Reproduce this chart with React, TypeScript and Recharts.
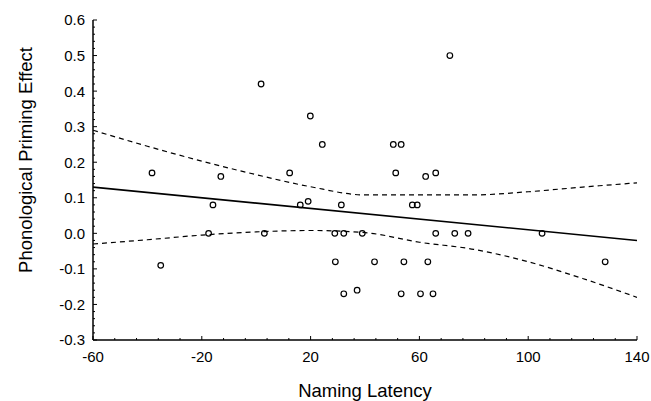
import React from "react";
import { ComposedChart, Line, Scatter, XAxis, YAxis, Label } from "recharts";

// scatter points: naming latency vs phonological priming effect
const latency = [
  -38.3, -35.1, -13, -15.9, -17.5, 1.8, 3.0, 19.9, 24.3, 50.4, 53.3, 12.3, 51.3,
  62.3, 66, 16.2, 19.1, 31.3, 57.4, 59.2, 71.2, 28.9, 32.2, 39, 66, 73, 77.9,
  29.1, 43.5, 54.3, 63.1, 32.2, 53.3, 60.4, 65, 37.1, 105.1, 128.3,
];
const priming = [
  0.17, -0.09, 0.16, 0.08, 0.0, 0.42, 0.0, 0.33, 0.25, 0.25, 0.25, 0.17, 0.17,
  0.16, 0.17, 0.08, 0.09, 0.08, 0.08, 0.08, 0.5, 0.0, 0.0, 0.0, 0.0, 0.0, 0.0,
  -0.08, -0.08, -0.08, -0.08, -0.17, -0.17, -0.17, -0.17, -0.16, 0.0, -0.08,
];

// regression line end points
const fitX = [-60, 140];
const fitY = [0.13, -0.02];

// confidence band
const bandX = [-60, -40, -20, 0, 20, 40, 60, 80, 100, 120, 140];
const bandUpper = [0.29, 0.245, 0.203, 0.165, 0.131, 0.108, 0.108, 0.108, 0.117, 0.13, 0.142];
const bandLower = [-0.03, -0.018, -0.005, 0.004, 0.008, 0.002, -0.025, -0.045, -0.08, -0.127, -0.18];

const xTicks = [-60, -20, 20, 60, 100, 140];
const yTicks = [-0.3, -0.2, -0.1, 0.0, 0.1, 0.2, 0.3, 0.4, 0.5, 0.6];
const yTickLabels = ["-0.3", "-0.2", "-0.1", "0.0", "0.1", "0.2", "0.3", "0.4", "0.5", "0.6"];

const FONT = "'Liberation Sans', Arial, Helvetica, sans-serif";

// add 4 minor ticks between every pair of major ones
const withMinor = (major: number[]) => {
  const out: number[] = [];
  for (let i = 0; i < major.length - 1; i++) {
    const step = (major[i + 1] - major[i]) / 5;
    for (let k = 0; k < 5; k++) out.push(+(major[i] + k * step).toFixed(4));
  }
  out.push(major[major.length - 1]);
  return out;
};

const points = latency.map((x, i) => ({ x, y: priming[i] }));
const fitData = fitX.map((x, i) => ({ x, y: fitY[i] }));
const upperData = bandX.map((x, i) => ({ x, y: bandUpper[i] }));
const lowerData = bandX.map((x, i) => ({ x, y: bandLower[i] }));

const majorIndex = (list: number[], v: number) => list.findIndex((t) => Math.abs(t - v) < 1e-6);

const XTick = (props: any) => {
  const { x, y, payload } = props;
  const idx = majorIndex(xTicks, payload.value);
  return (
    <g>
      <line x1={x} y1={y} x2={x} y2={y - (idx >= 0 ? 4 : 2)} stroke="#000" strokeWidth={1} />
      {idx >= 0 && (
        <text x={x} y={y + 22} textAnchor="middle" fontSize={15} fontFamily={FONT} fill="#000">
          {xTicks[idx]}
        </text>
      )}
    </g>
  );
};

const YTick = (props: any) => {
  const { x, y, payload } = props;
  const idx = majorIndex(yTicks, payload.value);
  return (
    <g>
      <line x1={x} y1={y} x2={x + (idx >= 0 ? 4 : 2)} y2={y} stroke="#000" strokeWidth={1} />
      {idx >= 0 && (
        <text x={x - 8} y={y} dy="0.36em" textAnchor="end" fontSize={15} fontFamily={FONT} fill="#000">
          {yTickLabels[idx]}
        </text>
      )}
    </g>
  );
};

const Ring = (props: any) => {
  const { cx, cy } = props;
  return <circle cx={cx} cy={cy} r={2.8} fill="none" stroke="#000" strokeWidth={1.2} />;
};

export default function App() {
  return (
    <div style={{ position: "absolute", left: 0, top: 0, background: "#fff" }}>
      <ComposedChart width={651} height={401} margin={{ top: 20, right: 14, bottom: 0, left: 0 }}>
        <XAxis
          dataKey="x"
          type="number"
          domain={[-60, 140]}
          ticks={withMinor(xTicks)}
          interval={0}
          height={61}
          tickSize={0}
          tickMargin={0}
          tick={XTick}
          axisLine={{ stroke: "#000", strokeWidth: 1.5 }}
          allowDataOverflow
        >
          <Label
            content={({ viewBox }: any) => (
              <text
                x={viewBox.x + viewBox.width / 2}
                y={viewBox.y + 57}
                textAnchor="middle"
                fontSize={18.5}
                fontFamily={FONT}
                fill="#000"
              >
                Naming Latency
              </text>
            )}
          />
        </XAxis>
        <YAxis
          dataKey="y"
          type="number"
          domain={[-0.3, 0.6]}
          ticks={withMinor(yTicks)}
          interval={0}
          width={93}
          tickSize={0}
          tickMargin={0}
          tick={YTick}
          axisLine={{ stroke: "#000", strokeWidth: 1.5 }}
          allowDataOverflow
        >
          <Label
            content={({ viewBox }: any) => {
              const cx = 25;
              const cy = viewBox.y + viewBox.height / 2 - 20;
              return (
                <text
                  x={cx}
                  y={cy}
                  transform={`rotate(-90, ${cx}, ${cy})`}
                  textAnchor="middle"
                  dominantBaseline="central"
                  fontSize={18.5}
                  fontFamily={FONT}
                  fill="#000"
                >
                  Phonological Priming Effect
                </text>
              );
            }}
          />
        </YAxis>
        <Line data={upperData} dataKey="y" type="monotone" stroke="#000" strokeWidth={1.2}
          strokeDasharray="5 4" dot={false} activeDot={false} isAnimationActive={false} />
        <Line data={lowerData} dataKey="y" type="monotone" stroke="#000" strokeWidth={1.2}
          strokeDasharray="5 4" dot={false} activeDot={false} isAnimationActive={false} />
        <Line data={fitData} dataKey="y" type="linear" stroke="#000" strokeWidth={1.6}
          dot={false} activeDot={false} isAnimationActive={false} />
        <Scatter data={points} dataKey="y" shape={Ring} isAnimationActive={false} />
      </ComposedChart>
    </div>
  );
}
